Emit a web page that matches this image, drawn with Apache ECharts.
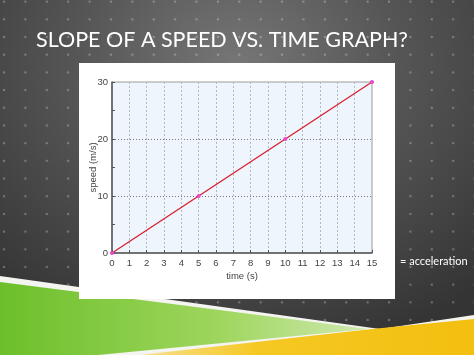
<!DOCTYPE html>
<html>
<head>
<meta charset="utf-8">
<script src="https://cdn.jsdelivr.net/npm/echarts@6/dist/echarts.min.js"></script>
<style>
  html, body { margin: 0; padding: 0; }
  body {
    width: 474px; height: 355px; overflow: hidden;
    background-color: #3a3a3a;
    background-image:
      radial-gradient(circle, rgba(255,255,255,0.28) 0.9px, rgba(255,255,255,0) 1.6px),
      radial-gradient(ellipse 75% 85% at 50% 18%, #767676 0%, #565656 45%, #343434 100%);
    background-size: 21.4px 17.7px, 100% 100%;
    background-position: -6.7px -7.2px, 0 0;
  }
  #chart { width: 474px; height: 355px; }
</style>
</head>
<body>
<div id="chart"></div>
<script>
  // data
  const time = [0, 5, 10, 15];
  const speed = [0, 10, 20, 30];
  const xTicks = [0, 1, 2, 3, 4, 5, 6, 7, 8, 9, 10, 11, 12, 13, 14, 15];
  const yTicks = [0, 10, 20, 30];

  const chart = echarts.init(document.getElementById('chart'));
  const font = 'Liberation Sans, Arial, sans-serif';

  const option = {
    animation: false,
    grid: {
      left: 112, top: 82, width: 260, height: 171,
      show: true,
      backgroundColor: '#eef5fc',
      borderColor: '#9a9a9a',
      borderWidth: 1
    },
    xAxis: {
      type: 'value',
      min: xTicks[0], max: xTicks[xTicks.length - 1], interval: 1,
      name: 'time (s)',
      nameLocation: 'middle',
      nameGap: 18,
      nameMoveOverlap: false,
      nameTextStyle: { color: '#444', fontSize: 9.5, fontFamily: font },
      axisLine: { lineStyle: { color: '#555', width: 1.5 } },
      axisTick: { inside: true, length: 3, lineStyle: { color: '#555' } },
      axisLabel: { color: '#444', fontSize: 9.5, fontFamily: font, margin: 5 },
      splitLine: { show: true, showMinLine: false, showMaxLine: false,
        lineStyle: { color: '#b4b8c0', type: [2, 2], width: 1 } }
    },
    yAxis: {
      type: 'value',
      min: yTicks[0], max: yTicks[yTicks.length - 1], interval: 10,
      name: 'speed (m/s)',
      nameLocation: 'middle',
      nameGap: 14,
      nameMoveOverlap: false,
      nameTextStyle: { color: '#444', fontSize: 9.5, fontFamily: font },
      axisLine: { show: true, lineStyle: { color: '#555', width: 1.5 } },
      axisTick: { inside: true, length: 3, lineStyle: { color: '#555' } },
      minorTick: { show: true, splitNumber: 2, length: 3, lineStyle: { color: '#555' } },
      axisLabel: { color: '#444', fontSize: 9.5, fontFamily: font, margin: 4 },
      splitLine: { show: true, showMinLine: false, showMaxLine: false,
        lineStyle: { color: '#777', type: [1, 2], width: 1 } }
    },
    series: [{
      type: 'line',
      data: time.map((t, i) => [t, speed[i]]),
      lineStyle: { color: '#d8202e', width: 1.3 },
      symbol: 'circle',
      symbolSize: 4,
      itemStyle: { color: '#ee44cc' },
      clip: false,
      z: 5
    }],
    graphic: [
      // slide decorations
      { type: 'polygon', z: -20, shape: { points: [[0, 276], [380, 329], [474, 315], [474, 355], [0, 355]] },
        style: { fill: '#f4f4f0' } },
      { type: 'polygon', z: -19, shape: { points: [[0, 282], [368, 329], [98, 355], [0, 355]] },
        style: { fill: new echarts.graphic.LinearGradient(0, 0, 1, 0, [
          { offset: 0, color: '#6cbf2a' }, { offset: 0.6, color: '#9fd65e' }, { offset: 1, color: '#cfe9b0' }]) } },
      { type: 'polygon', z: -19, shape: { points: [[474, 319], [474, 355], [140, 355], [372, 329]] },
        style: { fill: new echarts.graphic.LinearGradient(0, 0, 1, 0, [
          { offset: 0, color: '#f8e090' }, { offset: 0.35, color: '#f5c823' }, { offset: 1, color: '#f3bf10' }]) } },
      { type: 'rect', z: -10, shape: { x: 79, y: 63, width: 316, height: 236 }, style: { fill: '#ffffff' } },
      { type: 'text', z: 100, left: 36, top: 29,
        style: { text: 'SLOPE OF A SPEED VS. TIME GRAPH?', fill: '#ffffff', fontSize: 21.5, fontFamily: 'Lato, sans-serif' } },
      { type: 'text', z: 100, left: 400, top: 256,
        style: { text: '= acceleration', fill: '#ffffff', fontSize: 11, fontFamily: 'Lato, sans-serif' } }
    ]
  };

  chart.setOption(option);
</script>
</body>
</html>
